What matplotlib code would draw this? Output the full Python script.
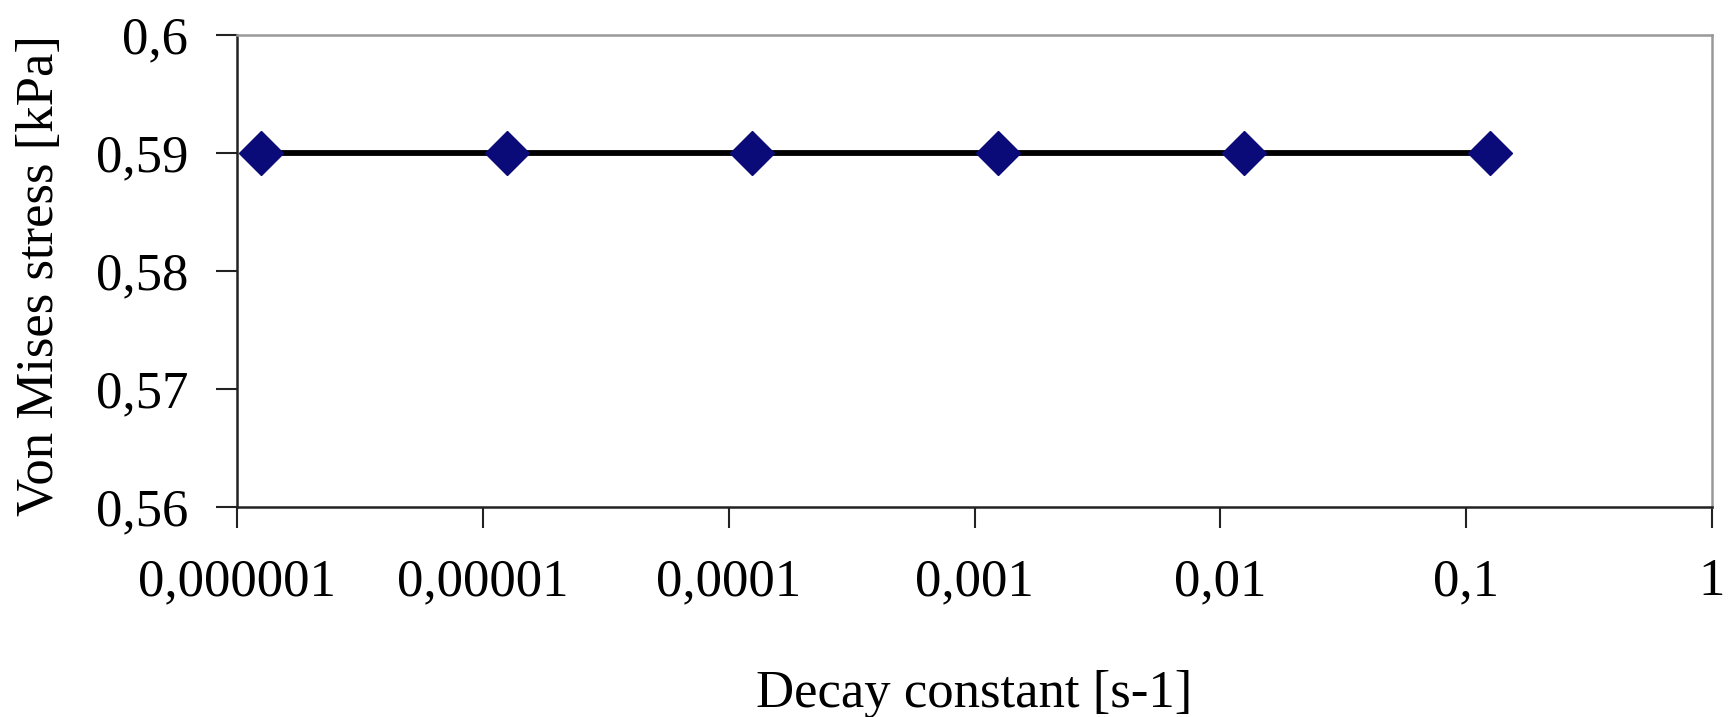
import matplotlib
matplotlib.use("Agg")
import matplotlib.pyplot as plt

# data
decay_constant = [1.25e-6, 1.25e-5, 1.25e-4, 1.25e-3, 1.25e-2, 1.25e-1]
von_mises = [0.59, 0.59, 0.59, 0.59, 0.59, 0.59]

x_ticks = [1e-6, 1e-5, 1e-4, 1e-3, 1e-2, 1e-1, 1]
x_tick_labels = ["0,000001", "0,00001", "0,0001", "0,001", "0,01", "0,1", "1"]
y_ticks = [0.56, 0.57, 0.58, 0.59, 0.60]
y_tick_labels = ["0,56", "0,57", "0,58", "0,59", "0,6"]

plt.rcParams["font.family"] = ["Liberation Serif", "DejaVu Serif"]

fig = plt.figure(figsize=(17.30, 7.17), dpi=100)
ax = fig.add_axes([237 / 1730, 1 - 507 / 717, (1712 - 237) / 1730, (507 - 35) / 717])

ax.plot(decay_constant, von_mises, color="black", linewidth=4.2, zorder=2)
ax.plot(decay_constant, von_mises, linestyle="none", marker="D", markersize=22,
        markerfacecolor="#0a0a78", markeredgecolor="#0a0a78", zorder=3)

ax.set_xscale("log")
ax.set_xlim(1e-6, 1)
ax.set_ylim(0.56, 0.60)
ax.set_xticks(x_ticks)
ax.set_xticklabels(x_tick_labels)
ax.minorticks_off()
ax.set_yticks(y_ticks)
ax.set_yticklabels(y_tick_labels)

ax.tick_params(axis="both", labelsize=38, length=15, width=1.5, direction="out",
               color="#222222")
ax.tick_params(axis="x", pad=22)
ax.tick_params(axis="y", pad=20)

for side in ["left", "bottom"]:
    ax.spines[side].set_color("#222222")
    ax.spines[side].set_linewidth(1.8)
for side in ["top", "right"]:
    ax.spines[side].set_color("#999999")
    ax.spines[side].set_linewidth(1.8)

ax.set_xlabel("Decay constant [s-1]", fontsize=38)
ax.xaxis.set_label_coords(0.5, -0.345)
ax.set_ylabel("Von Mises stress [kPa]", fontsize=38)
ax.yaxis.set_label_coords(-0.117, 0.49)

fig.savefig("out.png", dpi=100)
